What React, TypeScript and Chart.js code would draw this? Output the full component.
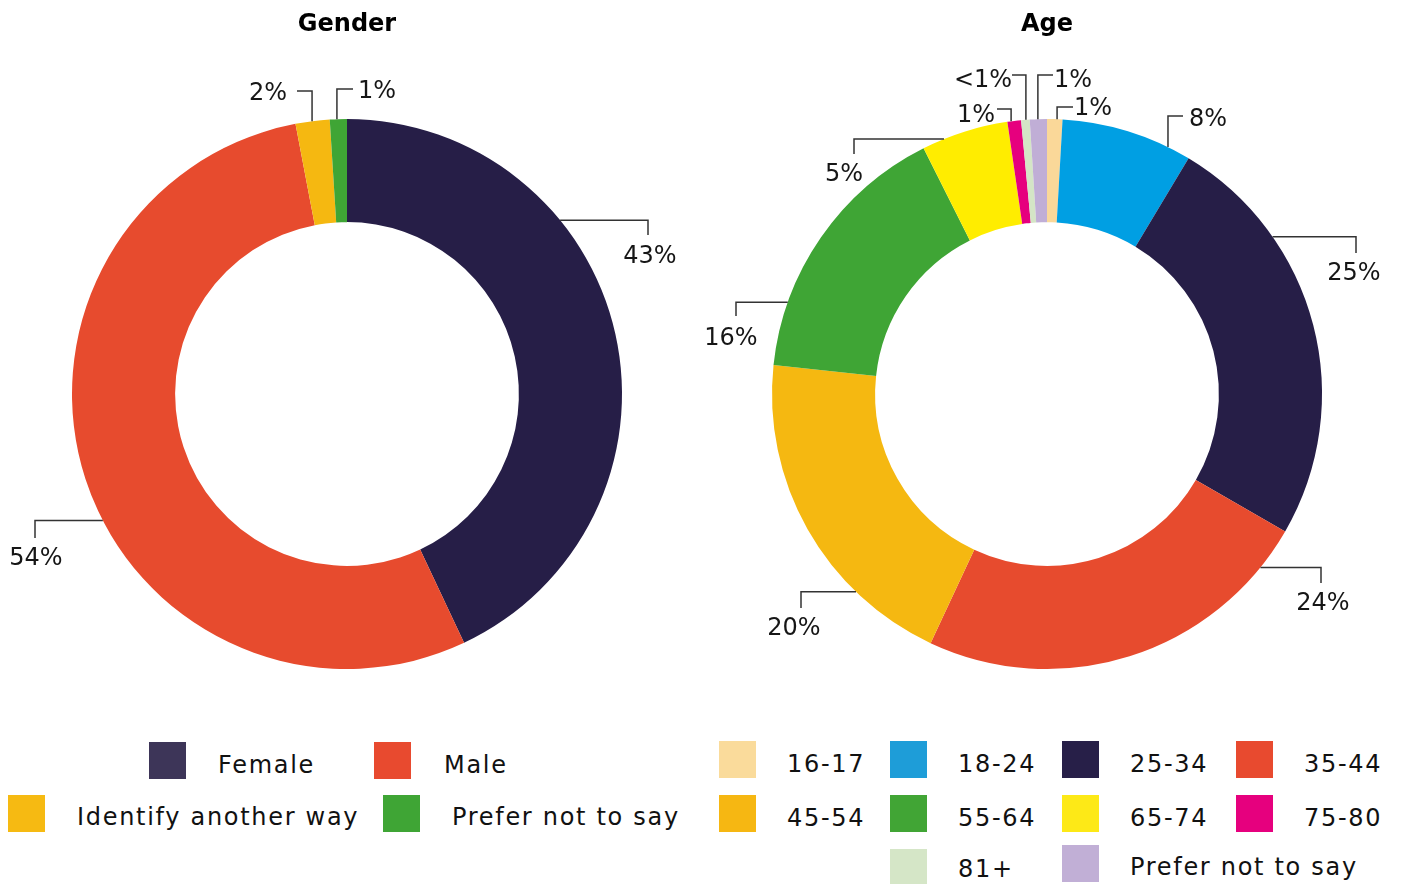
import React, { useEffect, useRef } from 'react';
import { Chart, registerables } from 'chart.js';

Chart.register(...registerables);

// ---------- data ----------
const genderCategories = ['Female', 'Male', 'Identify another way', 'Prefer not to say'];
const genderValues = [43, 54, 2, 1];
const genderDisplay = ['43%', '54%', '2%', '1%'];
const genderColors = ['#261E47', '#E74B2E', '#F5B811', '#3FA535'];
const genderLegendColors = ['#3D3558', '#E84A2F', '#F6BA12', '#3FA535'];

const ageCategories = ['16-17', '18-24', '25-34', '35-44', '45-54', '55-64', '65-74', '75-80', '81+', 'Prefer not to say'];
const ageValues = [0.9, 7.7, 24.7, 23.6, 19.7, 15.9, 5.1, 0.8, 0.5, 1.0];
const ageDisplay = ['1%', '8%', '25%', '24%', '20%', '16%', '5%', '1%', '<1%', '1%'];
const ageColors = ['#FAD899', '#009FE3', '#261E47', '#E74B2E', '#F5B811', '#3FA535', '#FFED00', '#E6007E', '#D4E5C6', '#C0AED6'];
const ageLegendColors = ['#FADB9B', '#1E9DD8', '#271F48', '#E84A2F', '#F6B712', '#41A535', '#FDE917', '#E6007E', '#D5E6C7', '#C1AFD6'];

// ---------- layout (callout leader lines, relative to doughnut centre) ----------
type Callout = { angle: number; mode: 'h' | 'v'; end: [number, number]; text: [number, number] };
const genderCallouts: Callout[] = [
  { angle: 50.8, mode: 'h', end: [301, -159], text: [303, -131] },
  { angle: 242.6, mode: 'h', end: [-312, 144], text: [-311, 171] },
  { angle: 352.7, mode: 'v', end: [-50, -303], text: [-79, -294] },
  { angle: 357.9, mode: 'v', end: [6, -305], text: [30, -296] },
];
const ageCallouts: Callout[] = [
  { angle: 2.1, mode: 'v', end: [26, -287], text: [46, -279] },
  { angle: 26.1, mode: 'v', end: [136, -278], text: [161, -268] },
  { angle: 55.1, mode: 'h', end: [309, -141], text: [307, -114] },
  { angle: 129.1, mode: 'h', end: [274, 189], text: [276, 216] },
  { angle: 224.0, mode: 'h', end: [-246, 214], text: [-253, 241] },
  { angle: 289.5, mode: 'h', end: [-311, -78], text: [-316, -49] },
  { angle: 338.0, mode: 'h', end: [-193, -240], text: [-203, -213] },
  { angle: 352.5, mode: 'v', end: [-50, -285], text: [-71, -272] },
  { angle: 355.6, mode: 'v', end: [-35, -319], text: [-64, -307] },
  { angle: 358.1, mode: 'v', end: [6, -319], text: [26, -307] },
];

// legend layout: [swatchX, swatchY, textX, textCenterY]
const genderLegendPos = [[149, 742, 218, 765], [374, 742, 444, 765], [8, 795, 77, 817], [383, 795, 452, 817]];
const ageLegendPos = [
  [719, 741, 787, 764], [890, 741, 958, 764], [1062, 741, 1130, 764], [1236, 741, 1304, 764],
  [719, 795, 787, 818], [890, 795, 958, 818], [1062, 795, 1130, 818], [1236, 795, 1304, 818],
  [890, 849, 958, 869], [1062, 845, 1130, 867],
];

const FONT = '"DejaVu Sans", sans-serif';

function makeCalloutPlugin(items: Callout[], texts: string[]) {
  return {
    id: 'callouts',
    afterDatasetsDraw(chart: any) {
      const arc = chart.getDatasetMeta(0).data[0];
      if (!arc) return;
      const cx = arc.x, cy = arc.y, R = arc.outerRadius;
      const ctx = chart.ctx;
      ctx.save();
      ctx.strokeStyle = '#333333';
      ctx.lineWidth = 1.5;
      ctx.fillStyle = '#161616';
      ctx.font = `24px ${FONT}`;
      ctx.textAlign = 'center';
      ctx.textBaseline = 'alphabetic';
      items.forEach((it, i) => {
        const t = (it.angle * Math.PI) / 180;
        const px = cx + R * Math.sin(t);
        const py = cy - R * Math.cos(t);
        const ex = cx + it.end[0];
        const ey = cy + it.end[1];
        const kx = it.mode === 'h' ? ex : px;
        const ky = it.mode === 'h' ? py : ey;
        ctx.beginPath();
        ctx.moveTo(px, py);
        ctx.lineTo(kx, ky);
        ctx.lineTo(ex, ey);
        ctx.stroke();
        ctx.fillText(texts[i], cx + it.text[0], cy + it.text[1]);
      });
      ctx.restore();
    },
  };
}

function Doughnut(props: {
  title: string; labels: string[]; values: number[]; colors: string[];
  callouts: Callout[]; display: string[]; left: number; width: number;
}) {
  const ref = useRef<HTMLCanvasElement>(null);
  useEffect(() => {
    if (!ref.current) return;
    const chart = new Chart(ref.current, {
      type: 'doughnut',
      data: {
        labels: props.labels,
        datasets: [{
          data: props.values,
          backgroundColor: props.colors,
          borderWidth: 0,
          hoverOffset: 0,
          offset: 0,
        }],
      },
      options: {
        responsive: false,
        animation: false,
        cutout: '62.5%',
        layout: { padding: { left: 72, right: props.width - 622, top: 0, bottom: 31 } },
        plugins: {
          legend: { display: false },
          tooltip: { enabled: false },
          title: {
            display: true,
            text: props.title,
            color: '#000000',
            font: { family: FONT, size: 24, weight: 'bold' },
            padding: { top: 10, bottom: 80.2 },
          },
        },
      },
      plugins: [makeCalloutPlugin(props.callouts, props.display)],
    } as any);
    return () => chart.destroy();
  }, []);
  return (
    <canvas
      ref={ref}
      width={props.width}
      height={700}
      style={{ position: 'absolute', left: props.left, top: 0, width: props.width, height: 700, display: 'block' }}
    />
  );
}

function Legend(props: { labels: string[]; colors: string[]; pos: number[][] }) {
  return (
    <>
      {props.labels.map((l, i) => {
        const [sx, sy, tx, ty] = props.pos[i];
        return (
          <React.Fragment key={l + i}>
            <div style={{ position: 'absolute', left: sx, top: sy, width: 37, height: 37, background: props.colors[i] }} />
            <div style={{
              position: 'absolute', left: tx, top: ty - 15, height: 30, lineHeight: '30px',
              fontFamily: FONT, fontSize: 24, letterSpacing: '1.7px', color: '#111111', whiteSpace: 'nowrap',
            }}>{l}</div>
          </React.Fragment>
        );
      })}
    </>
  );
}

export default function App() {
  return (
    <div style={{ position: 'absolute', left: 0, top: 0, width: 1401, height: 884, background: '#ffffff', overflow: 'hidden' }}>
      <Doughnut title="Gender" labels={genderCategories} values={genderValues} colors={genderColors}
        callouts={genderCallouts} display={genderDisplay} left={0} width={700} />
      <Doughnut title="Age" labels={ageCategories} values={ageValues} colors={ageColors}
        callouts={ageCallouts} display={ageDisplay} left={700} width={701} />
      <Legend labels={genderCategories} colors={genderLegendColors} pos={genderLegendPos} />
      <Legend labels={ageCategories} colors={ageLegendColors} pos={ageLegendPos} />
    </div>
  );
}
